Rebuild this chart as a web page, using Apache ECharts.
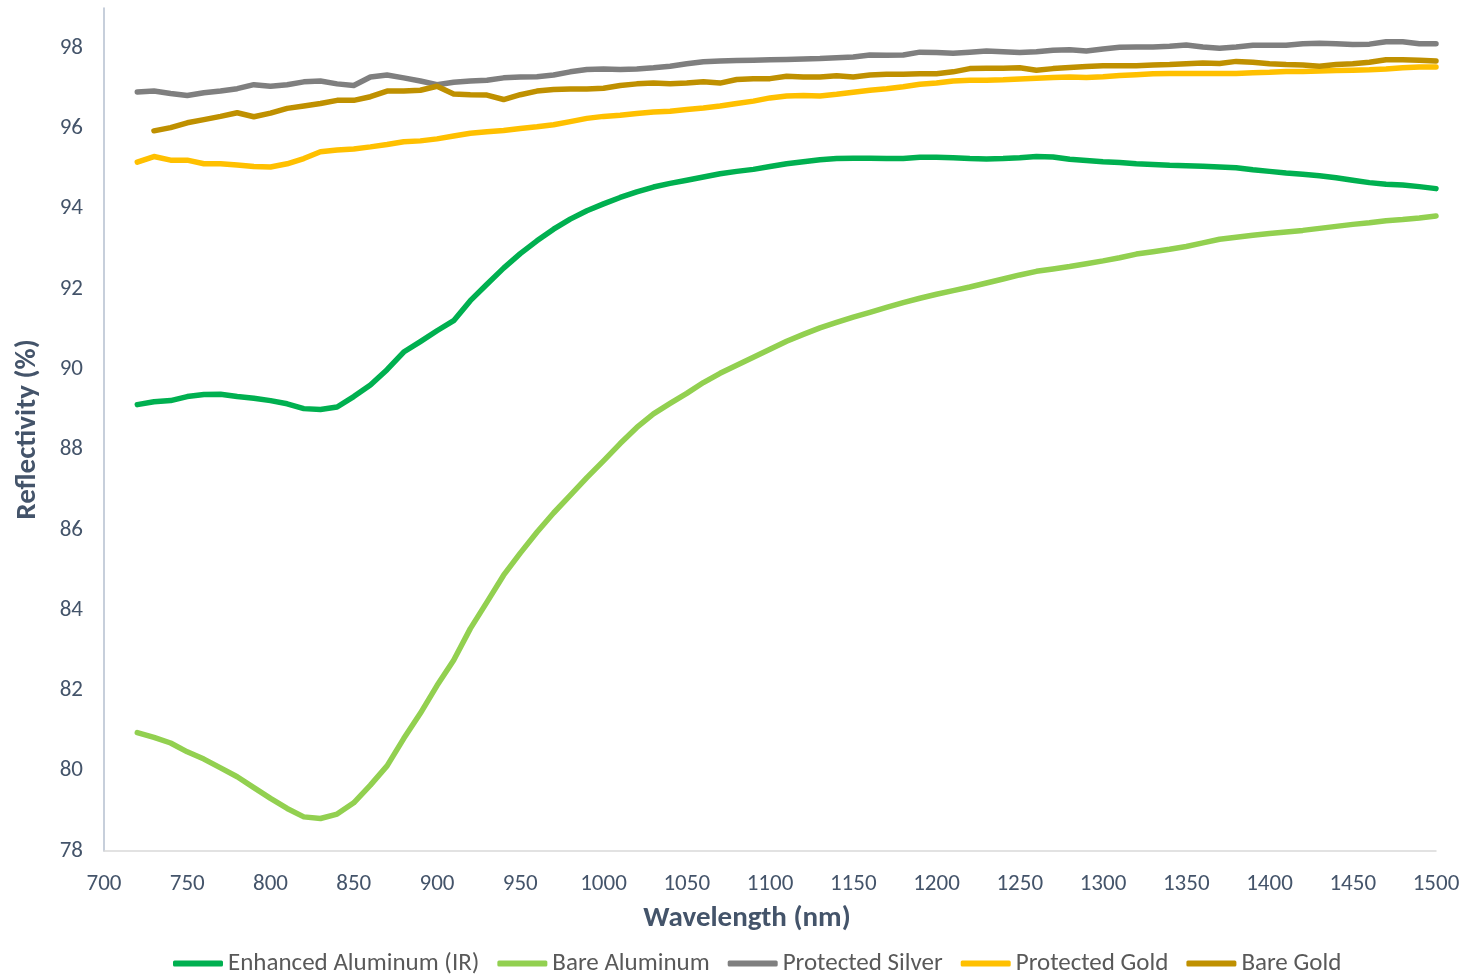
<!DOCTYPE html>
<html>
<head>
<meta charset="utf-8">
<script src="https://cdn.jsdelivr.net/npm/echarts@6/dist/echarts.min.js"></script>
<style>
html,body{margin:0;padding:0;background:#fff;}
#chart{width:1471px;height:977px;}
</style>
</head>
<body>
<div id="chart"></div>
<script>
const wavelengths = [720,730,740,750,760,770,780,790,800,810,820,830,840,850,860,870,880,890,900,910,920,930,940,950,960,970,980,990,1000,1010,1020,1030,1040,1050,1060,1070,1080,1090,1100,1110,1120,1130,1140,1150,1160,1170,1180,1190,1200,1210,1220,1230,1240,1250,1260,1270,1280,1290,1300,1310,1320,1330,1340,1350,1360,1370,1380,1390,1400,1410,1420,1430,1440,1450,1460,1470,1480,1490,1500];

const enhancedAluminum = [89.12,89.19,89.22,89.32,89.37,89.38,89.32,89.28,89.22,89.14,89.02,89.0,89.06,89.32,89.61,89.99,90.43,90.69,90.96,91.21,91.71,92.12,92.52,92.88,93.2,93.49,93.74,93.95,94.12,94.28,94.42,94.54,94.63,94.71,94.79,94.87,94.93,94.98,95.05,95.12,95.17,95.22,95.25,95.26,95.26,95.25,95.25,95.28,95.28,95.27,95.25,95.24,95.25,95.27,95.3,95.29,95.23,95.2,95.17,95.15,95.12,95.1,95.08,95.07,95.06,95.04,95.02,94.97,94.93,94.89,94.86,94.82,94.77,94.71,94.65,94.61,94.59,94.55,94.5];

const bareAluminum = [80.95,80.83,80.69,80.47,80.29,80.07,79.85,79.58,79.31,79.06,78.85,78.81,78.92,79.2,79.64,80.12,80.8,81.43,82.12,82.75,83.54,84.2,84.87,85.42,85.94,86.42,86.86,87.3,87.72,88.15,88.55,88.89,89.15,89.4,89.67,89.9,90.1,90.3,90.5,90.7,90.87,91.03,91.17,91.3,91.42,91.54,91.66,91.77,91.87,91.96,92.05,92.15,92.25,92.35,92.44,92.5,92.56,92.63,92.7,92.78,92.87,92.93,92.99,93.06,93.15,93.24,93.29,93.34,93.38,93.42,93.46,93.51,93.56,93.61,93.65,93.7,93.73,93.77,93.82];

const protectedSilver = [96.91,96.93,96.87,96.82,96.89,96.93,96.99,97.09,97.05,97.09,97.16,97.18,97.11,97.07,97.28,97.33,97.26,97.18,97.09,97.15,97.18,97.2,97.26,97.28,97.29,97.33,97.41,97.47,97.48,97.47,97.48,97.51,97.55,97.61,97.66,97.68,97.69,97.7,97.71,97.72,97.73,97.74,97.76,97.78,97.83,97.82,97.83,97.9,97.89,97.87,97.9,97.93,97.91,97.89,97.91,97.95,97.96,97.93,97.98,98.02,98.03,98.03,98.05,98.08,98.03,98.0,98.03,98.07,98.07,98.07,98.11,98.12,98.11,98.09,98.1,98.16,98.16,98.11,98.11];

const protectedGold = [95.16,95.3,95.21,95.21,95.12,95.12,95.09,95.05,95.04,95.12,95.25,95.42,95.46,95.49,95.54,95.6,95.67,95.69,95.74,95.81,95.88,95.92,95.95,96.0,96.04,96.09,96.17,96.25,96.3,96.33,96.37,96.41,96.43,96.47,96.51,96.56,96.62,96.68,96.76,96.81,96.82,96.81,96.85,96.9,96.95,96.99,97.04,97.1,97.13,97.18,97.2,97.2,97.21,97.23,97.25,97.27,97.28,97.27,97.29,97.32,97.34,97.36,97.37,97.37,97.37,97.37,97.37,97.39,97.4,97.42,97.42,97.43,97.44,97.45,97.46,97.48,97.51,97.53,97.53];

const bareGold = [null,95.94,96.02,96.14,96.22,96.3,96.39,96.29,96.38,96.5,96.56,96.62,96.7,96.7,96.79,96.93,96.93,96.95,97.05,96.86,96.84,96.83,96.72,96.84,96.93,96.97,96.98,96.98,97.0,97.07,97.11,97.13,97.11,97.13,97.16,97.13,97.22,97.24,97.24,97.3,97.28,97.28,97.31,97.28,97.33,97.35,97.35,97.36,97.36,97.41,97.49,97.5,97.5,97.51,97.45,97.49,97.52,97.54,97.56,97.56,97.56,97.58,97.59,97.61,97.63,97.62,97.67,97.65,97.61,97.59,97.58,97.55,97.59,97.61,97.65,97.71,97.71,97.7,97.68];

const seriesNames = ['Enhanced Aluminum (IR)','Bare Aluminum','Protected Silver','Protected Gold','Bare Gold'];
const seriesColors = ['#00B050','#92D050','#7F7F7F','#FFC000','#BF9000'];
const seriesValues = [enhancedAluminum, bareAluminum, protectedSilver, protectedGold, bareGold];

const FONT = 'Carlito, "Open Sans", "Noto Sans", sans-serif';
const TXT = '#44546A';

const chart = echarts.init(document.getElementById('chart'), null, {renderer:'canvas'});
chart.setOption({
  animation:false,
  backgroundColor:'#fff',
  grid:{left:104,right:35,top:8,bottom:126,containLabel:false},
  legend:{
    left:168, top:946,
    icon:'roundRect', itemWidth:50, itemHeight:6, itemGap:18,
    textStyle:{fontFamily:FONT,fontSize:25,color:'#595959'},
    data:seriesNames
  },
  xAxis:{
    type:'value', min:700, max:1500, interval:50,
    name:'Wavelength (nm)', nameLocation:'middle', nameGap:53,
    nameTextStyle:{fontFamily:FONT,fontSize:29,fontWeight:'bold',color:TXT,padding:[0,46,0,0]},
    axisLine:{show:true,lineStyle:{color:'#D9D9D9',width:1.5}},
    axisTick:{show:false},
    splitLine:{show:false},
    axisLabel:{fontFamily:FONT,fontSize:23,color:TXT,margin:22,formatter:(v)=>String(v)}
  },
  yAxis:{
    type:'value', min:78, max:99, interval:2,
    name:'Reflectivity (%)', nameLocation:'middle', nameGap:62, nameRotate:90,
    nameTextStyle:{fontFamily:FONT,fontSize:29,fontWeight:'bold',color:TXT},
    axisLine:{show:true,lineStyle:{color:'#B4BFCF',width:1.5}},
    axisTick:{show:false},
    splitLine:{show:false},
    axisLabel:{fontFamily:FONT,fontSize:23,color:TXT,margin:21,showMaxLabel:false}
  },
  series: seriesNames.map((n,i)=>({
    name:n, type:'line', showSymbol:false, symbol:'none',
    connectNulls:false,
    data: wavelengths.map((w,j)=>[w, seriesValues[i][j]]),
    lineStyle:{color:seriesColors[i],width:5.5,cap:'round',join:'round'},
    itemStyle:{color:seriesColors[i]}
  }))
});
</script>
</body>
</html>
